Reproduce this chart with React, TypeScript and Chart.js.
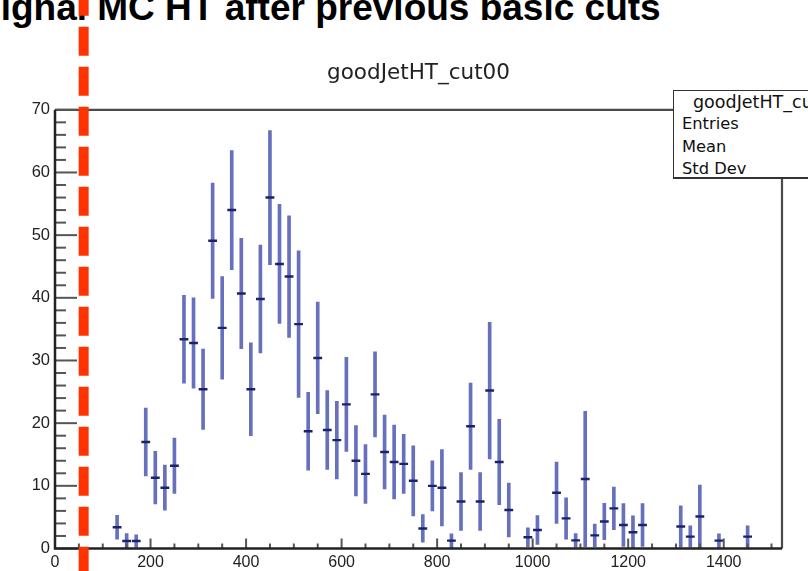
import React, { useEffect, useRef } from "react";
import { Chart, registerables } from "chart.js";

Chart.register(...registerables);

// ---- data ----
const binCenters = [
  130, 150, 170, 190, 210, 230, 250, 270, 290, 310, 330, 350, 370, 390, 410, 430, 450,
  470, 490, 510, 530, 550, 570, 590, 610, 630, 650, 670, 690, 710, 730, 750, 770, 790,
  810, 830, 850, 870, 890, 910, 930, 950, 990, 1010, 1050, 1070, 1090, 1110, 1130, 1150,
  1170, 1190, 1210, 1230, 1310, 1330, 1350, 1390, 1450,
];
const binValues = [
  3.4, 1.2, 1.2, 17.0, 11.3, 9.7, 13.2, 33.4, 32.8, 25.4, 49.1, 35.2, 54.0, 40.7, 25.4, 39.8, 56.0,
  45.4, 43.4, 35.8, 18.7, 30.4, 18.9, 17.3, 23.0, 14.0, 11.9, 24.6, 15.4, 13.8, 13.5, 10.8, 3.2, 10.0,
  9.7, 1.25, 7.5, 19.5, 7.5, 25.2, 13.8, 6.15, 1.8, 2.95, 8.9, 4.8, 1.3, 11.1, 2.1, 4.3,
  6.4, 3.75, 2.6, 3.75, 3.5, 1.9, 5.1, 1.25, 1.9,
];
const binErrors = [
  1.9, 1.2, 1.0, 5.4, 4.2, 3.6, 4.4, 7.0, 7.2, 6.4, 9.2, 8.2, 9.5, 8.8, 7.4, 8.6, 10.7,
  9.5, 9.7, 11.7, 6.2, 8.9, 6.3, 6.2, 7.5, 5.6, 4.7, 6.8, 5.9, 5.9, 4.7, 5.6, 2.2, 4.0,
  6.1, 1.1, 4.6, 6.9, 4.6, 10.9, 6.8, 4.3, 1.5, 2.3, 4.9, 3.3, 1.1, 10.8, 1.8, 2.9,
  3.4, 3.4, 2.6, 3.4, 3.3, 1.7, 5.0, 1.1, 1.7,
];

const xTickValues = [0, 200, 400, 600, 800, 1000, 1200, 1400];
const yTickValues = [0, 10, 20, 30, 40, 50, 60, 70];
const xMinorStep = 50;
const yMinorStep = 2;
const xMin = 0;
const xMax = 1522;
const yMin = 0;
const yMax = 70;
const cutValue = 60;

const histTitle = "goodJetHT_cut00";
const slideTitle = "Signal MC HT after previous basic cuts";
const statsName = "goodJetHT_cut00";
const statsRows = ["Entries", "Mean", "Std Dev"];

const tickFont = "'Liberation Sans', Arial, sans-serif";

const rootFramePlugin = {
  id: "rootFrame",
  afterDraw(chart: any) {
    const { ctx, chartArea: a, scales } = chart;
    const x = scales.x;
    const y = scales.y;
    ctx.save();
    // frame top + right
    ctx.strokeStyle = "#4a4a4a";
    ctx.lineWidth = 2.2;
    ctx.beginPath();
    ctx.moveTo(a.left, a.top);
    ctx.lineTo(a.right, a.top);
    ctx.lineTo(a.right, a.bottom);
    ctx.stroke();
    // y ticks (inward)
    ctx.strokeStyle = "#555";
    ctx.lineWidth = 2;
    for (let v = yMin; v <= yMax + 1e-9; v += yMinorStep) {
      const py = y.getPixelForValue(v);
      const len = yTickValues.includes(v) ? 22 : 11;
      ctx.beginPath();
      ctx.moveTo(a.left, py);
      ctx.lineTo(a.left + len, py);
      ctx.stroke();
    }
    // x ticks (inward)
    for (let v = xMin; v <= xMax; v += xMinorStep) {
      const px = x.getPixelForValue(v);
      const len = xTickValues.includes(v) ? 10 : 5;
      ctx.beginPath();
      ctx.moveTo(px, a.bottom);
      ctx.lineTo(px, a.bottom - len);
      ctx.stroke();
    }
    // axes
    ctx.strokeStyle = "#222";
    ctx.lineWidth = 2.5;
    ctx.beginPath();
    ctx.moveTo(a.left, a.top);
    ctx.lineTo(a.left, a.bottom);
    ctx.lineTo(a.right, a.bottom);
    ctx.stroke();
    // red dashed cut line
    const cx = x.getPixelForValue(cutValue);
    ctx.strokeStyle = "#ff3300";
    ctx.lineWidth = 10;
    ctx.setLineDash([29, 11]);
    ctx.lineDashOffset = 13.3;
    ctx.beginPath();
    ctx.moveTo(cx, 0);
    ctx.lineTo(cx, chart.height);
    ctx.stroke();
    ctx.restore();
  },
};

export default function App() {
  const canvasRef = useRef<HTMLCanvasElement | null>(null);

  useEffect(() => {
    document.body.style.margin = "0";
    const canvas = canvasRef.current;
    if (!canvas) return;
    const markers = binCenters.map((c, i) => ({ x: c, y: binValues[i] }));
    const errBars = binCenters.map((c, i) => ({
      x: c,
      y: [Math.max(0, binValues[i] - binErrors[i]), binValues[i] + binErrors[i]],
    }));
    const chart = new Chart(canvas, {
      type: "bar",
      data: {
        datasets: [
          {
            type: "scatter",
            data: markers,
            pointStyle: "line",
            pointRadius: 4.4,
            pointHoverRadius: 4.4,
            borderWidth: 2.4,
            borderColor: "#1c2268",
            backgroundColor: "#1c2268",
            order: 0,
          } as any,
          {
            type: "bar",
            data: errBars as any,
            barThickness: 3,
            backgroundColor: "#6670bd",
            borderWidth: 0,
            order: 1,
          } as any,
        ],
      },
      options: {
        animation: false,
        responsive: false,
        maintainAspectRatio: false,
        layout: { padding: { left: 0, right: 26, top: 0, bottom: 0 } },
        plugins: {
          legend: { display: false },
          tooltip: { enabled: false },
          title: {
            display: true,
            text: histTitle,
            fullSize: false,
            color: "#222",
            font: { family: "'DejaVu Sans', sans-serif", size: 21.5, weight: "normal" },
            padding: { top: 61, bottom: 23 },
          },
        },
        scales: {
          x: {
            type: "linear",
            min: xMin,
            max: xMax,
            offset: false,
            grid: { display: false, drawTicks: false, offset: false },
            border: { display: false },
            ticks: {
              padding: 4,
              color: "#222",
              font: { family: tickFont, size: 16 },
              includeBounds: false,
              autoSkip: false,
              maxRotation: 0,
              callback: (v: any) => String(v),
            },
            afterBuildTicks: (s: any) => {
              s.ticks = xTickValues.map((v) => ({ value: v }));
            },
            afterFit: (s: any) => {
              s.height = 22.5;
            },
          },
          y: {
            type: "linear",
            min: yMin,
            max: yMax,
            grid: { display: false, drawTicks: false },
            border: { display: false },
            ticks: {
              padding: 5,
              color: "#222",
              font: { family: tickFont, size: 16.5 },
              callback: (v: any) => String(v),
            },
            afterBuildTicks: (s: any) => {
              s.ticks = yTickValues.map((v) => ({ value: v }));
            },
            afterFit: (s: any) => {
              s.width = 55;
            },
          },
        },
      } as any,
      plugins: [rootFramePlugin],
    });
    return () => chart.destroy();
  }, []);

  return (
    <div
      style={{
        position: "fixed",
        left: 0,
        top: 0,
        width: 808,
        height: 571,
        overflow: "hidden",
        background: "#fff",
      }}
    >
      <div
        style={{
          position: "absolute",
          left: -24,
          top: -11,
          fontFamily: "'Liberation Sans', Arial, sans-serif",
          fontWeight: "bold",
          fontSize: 37,
          lineHeight: "37px",
          whiteSpace: "nowrap",
          color: "#000",
          zIndex: 0,
        }}
      >
        {slideTitle}
      </div>
      <canvas
        ref={canvasRef}
        width={808}
        height={571}
        style={{ position: "absolute", left: 0, top: 0, zIndex: 1, display: "block" }}
      />
      <div
        style={{
          position: "absolute",
          left: 673,
          top: 90,
          width: 178,
          height: 89,
          boxSizing: "border-box",
          border: "1.5px solid #333",
          borderBottomWidth: 2.5,
          background: "#fff",
          zIndex: 2,
          fontFamily: "'DejaVu Sans', sans-serif",
          fontSize: 16,
          color: "#111",
        }}
      >
        <div
          style={{
            position: "absolute",
            top: 1,
            left: 19,
            lineHeight: "20px",
            fontSize: 17.5,
            whiteSpace: "nowrap",
          }}
        >
          {statsName}
        </div>
        {statsRows.map((r, i) => (
          <div
            key={r}
            style={{
              position: "absolute",
              left: 8,
              top: 23 + i * 22.5,
              lineHeight: "20px",
              fontSize: 16.3,
              whiteSpace: "nowrap",
            }}
          >
            {r}
          </div>
        ))}
      </div>
    </div>
  );
}
